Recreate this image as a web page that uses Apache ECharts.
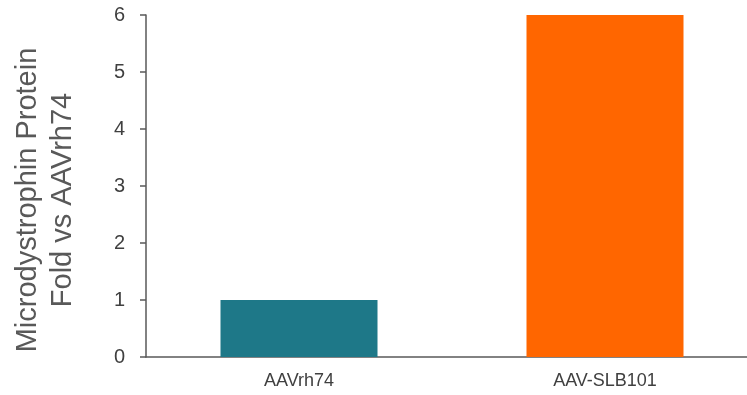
<!DOCTYPE html>
<html>
<head>
<meta charset="utf-8">
<script src="https://cdn.jsdelivr.net/npm/echarts@6/dist/echarts.min.js"></script>
<style>html,body{margin:0;padding:0;background:#fff;}#c{width:747px;height:395px;}</style>
</head>
<body>
<div id="c"></div>
<script>
const categories = ["AAVrh74", "AAV-SLB101"];
const values = [1, 6];
const barColors = ["#1E7888", "#FF6600"];
const yTicks = [0, 1, 2, 3, 4, 5, 6];
const yTitle = "Microdystrophin Protein\nFold vs AAVrh74";

const chart = echarts.init(document.getElementById('c'), null, {renderer: 'canvas'});
chart.setOption({
  animation: false,
  grid: {left: 146, top: 15, height: 342, width: 612, containLabel: false, outerBoundsMode: 'none'},
  xAxis: {
    type: 'category',
    data: categories,
    axisLine: {lineStyle: {color: '#595959', width: 1.5}},
    axisTick: {show: false},
    axisLabel: {color: '#404040', fontSize: 18, fontFamily: 'Liberation Sans, Arial', margin: 15}
  },
  yAxis: {
    type: 'value',
    min: 0, max: 6, interval: 1,
    axisLine: {show: true, lineStyle: {color: '#595959', width: 1.5}},
    axisTick: {show: true, length: 6, lineStyle: {color: '#595959', width: 1.5}},
    splitLine: {show: false},
    axisLabel: {color: '#404040', fontSize: 20, fontFamily: 'Liberation Sans, Arial', margin: 21,
      formatter: v => yTicks.includes(v) ? String(v) : ''}
  },
  graphic: [{
    type: 'text',
    x: 45, y: 200,
    rotation: Math.PI / 2,
    style: {
      text: yTitle,
      fill: '#595959',
      fontSize: 29,
      fontFamily: 'Liberation Sans, Arial',
      lineHeight: 35,
      align: 'center',
      verticalAlign: 'middle'
    }
  }],
  series: [{
    type: 'bar',
    barWidth: 157,
    data: values.map((v, i) => ({value: v, itemStyle: {color: barColors[i]}}))
  }]
});
</script>
</body>
</html>
